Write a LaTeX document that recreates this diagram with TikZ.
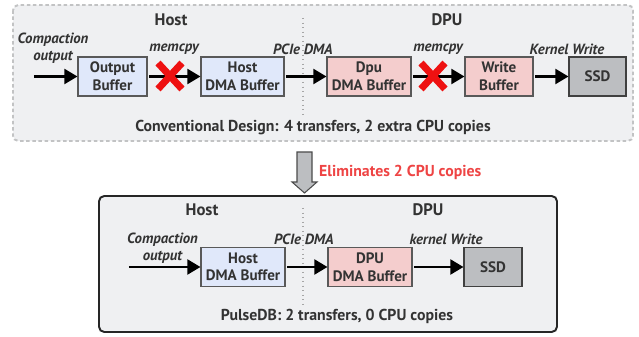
\documentclass[tikz,border=0pt]{standalone}
\usepackage{fontspec}
\setmainfont{PT Sans}
\usepackage{tikz}
\usetikzlibrary{positioning,calc,arrows.meta}

\definecolor{panelgray}{HTML}{EFF0F2}
\definecolor{hostblue}{HTML}{E0E8FA}
\definecolor{dpupink}{HTML}{F4CDCD}
\definecolor{ssdgray}{HTML}{BCBEC1}
\definecolor{inkgray}{HTML}{333333}
\definecolor{crossred}{HTML}{EE1111}
\definecolor{notered}{HTML}{EE4444}

\begin{document}
\begin{tikzpicture}[x=0.02cm, y=-0.02cm,
    every node/.style={text=inkgray, font=\fontsize{9}{10}\selectfont\bfseries},
    buf/.style={draw=black!65, line width=0.6pt, minimum height=0.78cm, inner sep=0pt, align=center, font=\fontsize{8.6}{10}\selectfont\bfseries},
    hostbuf/.style={buf, fill=hostblue},
    dpubuf/.style={buf, fill=dpupink},
    ssdbox/.style={buf, fill=ssdgray, draw=black!75},
    flow/.style={line width=1.5pt, -{Triangle[length=7.5pt,width=8.5pt]}, shorten <=1pt},
    lbl/.style={font=\fontsize{8.4}{9.4}\selectfont\bfseries\itshape, align=center},
    side/.style={font=\fontsize{9.5}{11}\selectfont\bfseries},
    divider/.style={gray!70, dotted, line width=0.6pt},
    cross/.style={crossred, line width=4pt}
]
\useasboundingbox (0,0) rectangle (639,337);

% Conventional path
\draw [panelgray!60!gray, fill=panelgray, dashed, dash pattern=on 2pt off 1.5pt, line width=1.1pt, rounded corners=3pt] (13,5) rectangle (633,141);
\draw [divider] (303,18) -- (303,115);
\node [side] (host1) at (171,20) {Host};
\node [side] (dpu1) at (447,20) {DPU};

\coordinate (in1) at (32,76.5);
\node [lbl] (comp1) at (53,48) {Compaction\\output};
\node [hostbuf, minimum width=1.38cm] (outbuf) at (112.5,76.5) {Output\\Buffer};
\node [hostbuf, minimum width=1.66cm] (hostbuf1) at (242.5,76.5) {Host\\DMA Buffer};
\node [dpubuf, minimum width=1.68cm] (dpubuf1) at (369,76.5) {Dpu\\DMA Buffer};
\node [dpubuf, minimum width=1.36cm] (wrbuf) at (499,76.5) {Write\\Buffer};
\node [ssdbox, minimum width=1.14cm] (ssd1) at (597.5,76.5) {SSD};

\draw [flow] (in1) -- (outbuf);
\draw [flow] (outbuf) -- (hostbuf1);
\draw [flow] (hostbuf1) -- (dpubuf1);
\draw [flow] (dpubuf1) -- (wrbuf);
\draw [flow] (wrbuf) -- (ssd1);

\node [lbl] (cp1) at (174,49) {memcpy};
\node [lbl] (pcie1) at (303,49) {PCIe DMA};
\node [lbl] (cp2) at (438,49) {memcpy};
\node [lbl] (kw1) at (567,49) {Kernel Write};

% copies that go away
\foreach \cx in {170,433} {
    \draw [cross] (\cx-12,63) -- (\cx+12,89);
    \draw [cross] (\cx-12,89) -- (\cx+12,63);
}

\node (sum1) at (313,128) {Conventional Design: 4 transfers, 2 extra CPU copies};

% Arrow between designs
\draw [fill=ssdgray, draw=black!70, line width=0.6pt] (297,152) -- (312,152) -- (312,182) -- (317,182) -- (304.5,193) -- (292,182) -- (297,182) -- cycle;
\node [anchor=west, text=notered] (elim) at (313,172) {Eliminates 2 CPU copies};

% PulseDB path
\draw [black!85, fill=panelgray, line width=1.1pt, rounded corners=3pt] (99,196) rectangle (557,332);
\draw [divider] (303,208) -- (303,305);
\node [side] (host2) at (202,210) {Host};
\node [side] (dpu2) at (428,210) {DPU};

\coordinate (in2) at (127,267);
\node [lbl] (comp2) at (162.5,248) {Compaction\\output};
\node [hostbuf, minimum width=1.68cm] (hostbuf2) at (243,267) {Host\\DMA Buffer};
\node [dpubuf, minimum width=1.68cm] (dpubuf2) at (370,267) {DPU\\DMA Buffer};
\node [ssdbox, minimum width=1.16cm] (ssd2) at (493,267) {SSD};

\draw [flow] (in2) -- (hostbuf2);
\draw [flow] (hostbuf2) -- (dpubuf2);
\draw [flow] (dpubuf2) -- (ssd2);

\node [lbl] (pcie2) at (304,239) {PCIe DMA};
\node [lbl] (kw2) at (446,239) {kernel Write};

\node (sum2) at (337,316) {PulseDB: 2 transfers, 0 CPU copies};
\end{tikzpicture}
\end{document}
